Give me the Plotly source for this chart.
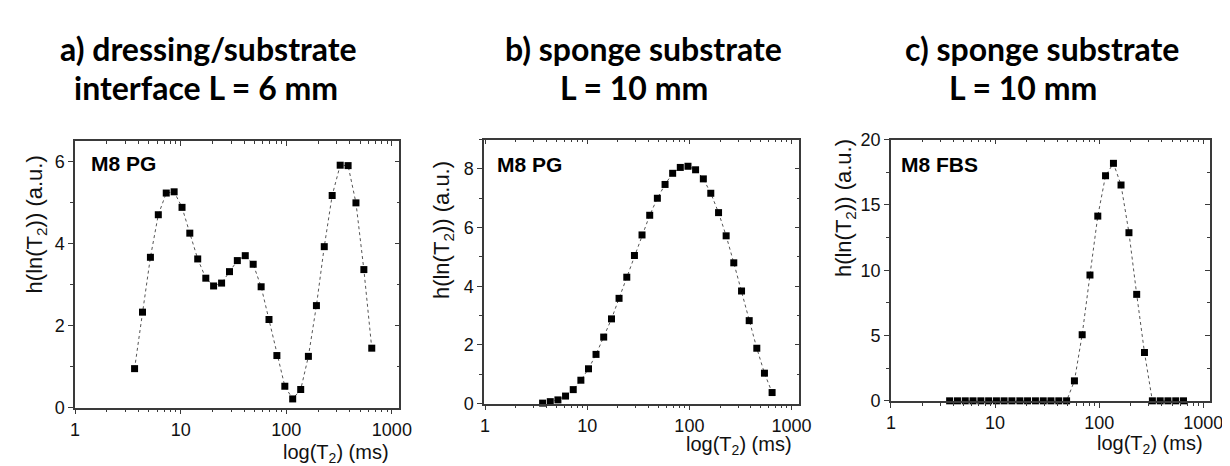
import plotly.graph_objects as go

# ---- data ----
T2_ms = [3.66, 4.35, 5.17, 6.14, 7.30, 8.67, 10.3, 12.2, 14.5, 17.3, 20.5, 24.4, 29.0, 34.4,
         40.9, 48.6, 57.8, 68.6, 81.5, 96.9, 115, 137, 162, 193, 229, 272, 324, 385, 457, 543, 645]
h_a = [0.95, 2.33, 3.67, 4.71, 5.24, 5.27, 4.89, 4.26, 3.63, 3.16, 2.97, 3.04, 3.32, 3.59, 3.71,
       3.50, 2.95, 2.15, 1.27, 0.52, 0.21, 0.44, 1.25, 2.49, 3.93, 5.18, 5.92, 5.91, 5.00, 3.37, 1.45]
h_b = [0.02, 0.07, 0.13, 0.26, 0.48, 0.80, 1.19, 1.68, 2.27, 2.89, 3.59, 4.31, 5.05, 5.75, 6.42,
       7.00, 7.47, 7.85, 8.05, 8.09, 7.97, 7.66, 7.17, 6.51, 5.72, 4.80, 3.84, 2.83, 1.89, 1.04, 0.38]
h_c = [0, 0, 0, 0, 0, 0, 0, 0, 0, 0, 0, 0, 0, 0, 0, 0,
       1.53, 5.06, 9.63, 14.14, 17.23, 18.18, 16.52, 12.87, 8.15, 3.70,
       0, 0, 0, 0, 0]
x_tickvals = [1, 10, 100, 1000]
x_ticktext = ["1", "10", "100", "1000"]
panel_titles = [("a) dressing/substrate", "interface L = 6 mm"),
                ("b) sponge substrate", "L = 10 mm"),
                ("c) sponge substrate", "L = 10 mm")]
sample_labels = ["M8 PG", "M8 PG", "M8 FBS"]
y_title = "h(ln(T<sub>2</sub>)) (a.u.)"
x_title = "log(T<sub>2</sub>) (ms)"

W, H = 1230, 466
def px(x): return x / W
def py(y): return 1 - y / H

# ---- layout geometry (pixels) ----
panels = [
    dict(data=h_a, box=(63, 392, 129, 407), xr=[0.0, 3.07], yr=[0, 6.5], dt=2, mdt=1,
         ttl1=(46, 32), ttl2=(60, 73), lab=(77, 152), yt=(23, 216), xt=(328, 455)),
    dict(data=h_b, box=(478, 798, 127, 403), xr=[-0.01, 3.076], yr=[0, 9], dt=2, mdt=1,
         ttl1=(497, 32), ttl2=(553, 73), lab=(489, 153), yt=(437, 222), xt=(737, 447)),
    dict(data=h_c, box=(891, 1215, 127, 400), xr=[0.0, 3.066], yr=[0, 20], dt=5, mdt=2.5,
         ttl1=(903, 32), ttl2=(948, 73), lab=(899, 153), yt=(845, 199), xt=(1154, 446)),
]

minor_x = [m * d for d in (1, 10, 100, 1000) for m in range(2, 10)]
AX = "#3a3a3a"
tickfont = dict(family="Liberation Sans, Arial", size=18, color="#111")

fig = go.Figure()
layout = dict(width=W, height=H, margin=dict(l=0, r=0, t=0, b=0),
              paper_bgcolor="white", plot_bgcolor="white", showlegend=False)
annotations = []

for i, p in enumerate(panels):
    n = i + 1
    m = i + 4
    x0, x1, y0, y1 = p["box"]
    xd = [px(x0), px(x1)]
    yd = [py(y1), py(y0)]
    xs = "" if n == 1 else str(n)
    fig.add_trace(go.Scatter(
        x=T2_ms, y=p["data"], mode="lines+markers",
        line=dict(color="#555", width=1, dash="dot"),
        marker=dict(symbol="square", size=7, color="black"),
        xaxis="x" + xs, yaxis="y" + xs, cliponaxis=False))
    fig.add_trace(go.Scatter(x=[], y=[], xaxis="x%d" % m, yaxis="y%d" % m,
                             hoverinfo="skip"))
    layout["xaxis" + xs] = dict(
        domain=xd, anchor="y" + xs, type="log", range=p["xr"],
        tickmode="array", tickvals=x_tickvals, ticktext=x_ticktext,
        ticks="outside", ticklen=5, tickwidth=1.2, tickcolor=AX,
        minor=dict(tickvals=minor_x, ticks="outside", ticklen=3, tickwidth=1, tickcolor=AX),
        showline=True, linecolor=AX, linewidth=1.5, showgrid=False, zeroline=False,
        tickfont=tickfont)
    layout["yaxis" + xs] = dict(
        domain=yd, anchor="x" + xs, range=p["yr"], dtick=p["dt"], tick0=0,
        ticks="outside", ticklen=5, tickwidth=1.2, tickcolor=AX,
        minor=dict(dtick=p["mdt"], tick0=0, ticks="outside", ticklen=3, tickwidth=1, tickcolor=AX),
        showline=True, linecolor=AX, linewidth=1.5, showgrid=False, zeroline=False,
        tickfont=tickfont)
    # mirrored top / right axes with inward ticks
    layout["xaxis%d" % m] = dict(
        overlaying="x" + xs, anchor="y%d" % m, side="top", type="log", range=p["xr"],
        tickmode="array", tickvals=x_tickvals, showticklabels=False,
        ticks="inside", ticklen=5, tickwidth=1.2, tickcolor=AX,
        minor=dict(tickvals=minor_x, ticks="inside", ticklen=3, tickwidth=1, tickcolor=AX),
        showline=True, linecolor=AX, linewidth=1.5, showgrid=False, zeroline=False)
    layout["yaxis%d" % m] = dict(
        domain=yd, overlaying="y" + xs, anchor="x%d" % m, side="right", range=p["yr"],
        dtick=p["dt"], tick0=0, showticklabels=False,
        ticks="inside", ticklen=5, tickwidth=1.2, tickcolor=AX,
        minor=dict(dtick=p["mdt"], tick0=0, ticks="inside", ticklen=3, tickwidth=1, tickcolor=AX),
        showline=True, linecolor=AX, linewidth=1.5, showgrid=False, zeroline=False)

    tfont = dict(family="Lato, Open Sans, sans-serif", size=32, color="black")
    annotations.append(dict(text="<b>%s</b>" % panel_titles[i][0], xref="paper", yref="paper",
                            x=px(p["ttl1"][0]), y=py(p["ttl1"][1]), xanchor="left", yanchor="middle",
                            showarrow=False, font=tfont))
    annotations.append(dict(text="<b>%s</b>" % panel_titles[i][1], xref="paper", yref="paper",
                            x=px(p["ttl2"][0]), y=py(p["ttl2"][1]), xanchor="left", yanchor="middle",
                            showarrow=False, font=tfont))
    annotations.append(dict(text="<b>%s</b>" % sample_labels[i], xref="paper", yref="paper",
                            x=px(p["lab"][0]), y=py(p["lab"][1]), xanchor="left", yanchor="middle",
                            showarrow=False,
                            font=dict(family="Liberation Sans, Arial", size=21, color="black")))
    annotations.append(dict(text=y_title, xref="paper", yref="paper", textangle=-90,
                            x=px(p["yt"][0]), y=py(p["yt"][1]), xanchor="center", yanchor="middle",
                            showarrow=False,
                            font=dict(family="Liberation Sans, Arial", size=22, color="#111")))
    annotations.append(dict(text=x_title, xref="paper", yref="paper",
                            x=px(p["xt"][0]), y=py(p["xt"][1]), xanchor="center", yanchor="middle",
                            showarrow=False,
                            font=dict(family="Liberation Sans, Arial", size=20, color="#111")))

layout["annotations"] = annotations
fig.update_layout(**layout)
fig.write_html("out.html")
